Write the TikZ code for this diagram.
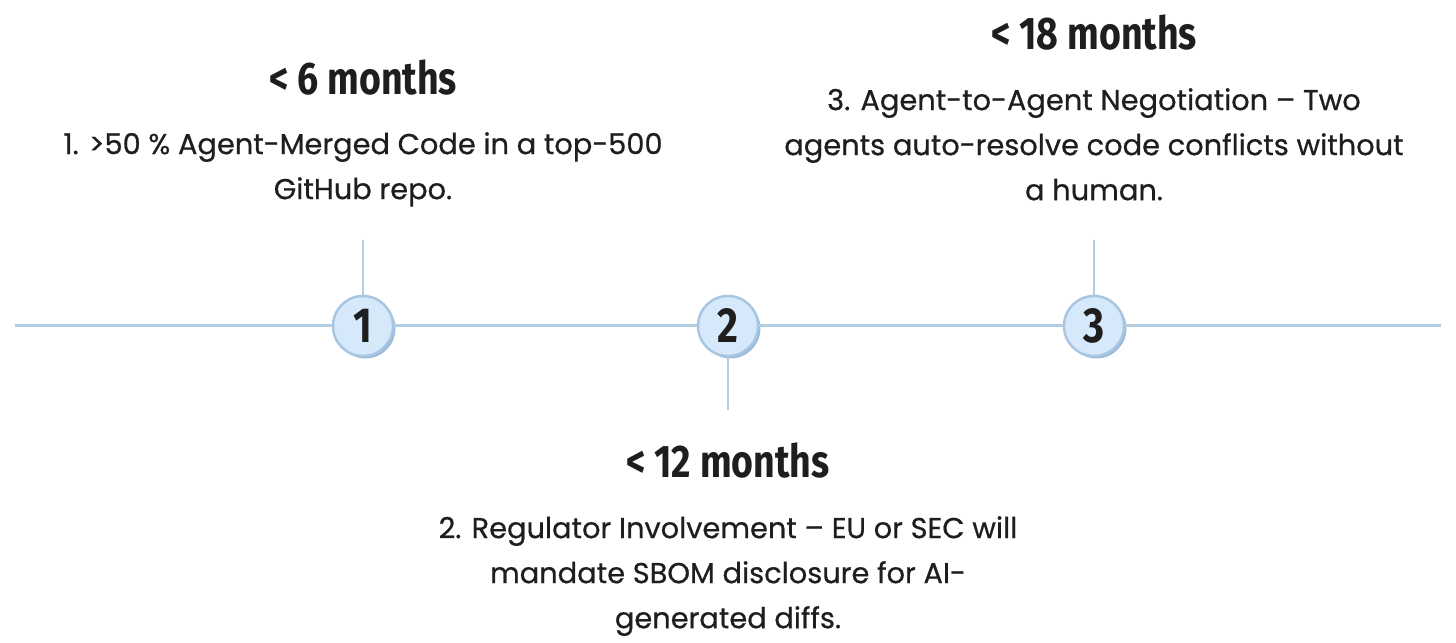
\documentclass[tikz,border=0pt]{standalone}
\usepackage{fontspec}
\setmainfont[FakeBold=0.6]{Poppins}
\newfontfamily\headfont[FakeStretch=0.82]{Fira Sans}
\usepackage{xcolor}
\usetikzlibrary{positioning, shadows}

\definecolor{rail}{HTML}{B3CDE3}
\definecolor{dotfill}{HTML}{D5E9FA}
\definecolor{dotedge}{HTML}{A7C6E2}
\definecolor{dotshade}{HTML}{9BBBD9}
\definecolor{ink}{HTML}{1E1E1E}

\begin{document}
\begin{tikzpicture}[
        x=0.01cm, y=-0.01cm,
        axis/.style={draw=rail, line width=0.85pt},
        stem/.style={draw=rail, line width=0.85pt},
        dot/.style={circle, draw=dotedge, fill=dotfill, line width=0.7pt,
            minimum size=0.6cm, inner sep=0pt, text=ink,
            font=\headfont\bfseries\fontsize{14}{14}\selectfont,
            general shadow={fill=dotshade, shadow xshift=0.7pt, shadow yshift=-0.7pt}},
        when/.style={anchor=base, inner sep=0pt, text=ink,
            font=\headfont\bfseries\fontsize{13}{15}\selectfont},
        what/.style={inner sep=0pt, align=center, text=ink,
            font=\fontsize{8.2}{12.8}\selectfont}
        ]
        \useasboundingbox (0,0) rectangle (1456,643);

        %% Timeline markers
        \node[dot] (n1) at (363,326)  {1};
        \node[dot] (n2) at (728,326)  {2};
        \node[dot] (n3) at (1094,326) {3};

        %% Axis
        \coordinate (lft) at (15,326);
        \coordinate (rgt) at (1441,326);
        \draw[axis] (lft) -- (n1) -- (n2) -- (n3) -- (rgt);

        %% Stems
        \coordinate (s1) at (363,240);
        \coordinate (s2) at (728,410);
        \coordinate (s3) at (1094,240);
        \draw[stem] (s1) -- (n1);
        \draw[stem] (n2) -- (s2);
        \draw[stem] (s3) -- (n3);

        %% ---- Milestone 1 ----
        \node[when] (h1) at (363,95) {< 6 months};
        \node[what, below=0.35cm of h1] (t1)
            {1. >50 \% Agent-Merged Code in a top-500\\GitHub repo.};

        %% ---- Milestone 2 ----
        \node[when] (h2) at (728,478) {< 12 months};
        \node[what, below=0.36cm of h2] (t2)
            {2. Regulator Involvement – EU or SEC will\\mandate SBOM disclosure for AI-\\generated diffs.};

        %% ---- Milestone 3 ----
        \node[when] (h3) at (1094,50) {< 18 months};
        \node[what, below=0.36cm of h3] (t3)
            {3. Agent-to-Agent Negotiation – Two\\agents auto-resolve code conflicts without\\a human.};

    \end{tikzpicture}
\end{document}
